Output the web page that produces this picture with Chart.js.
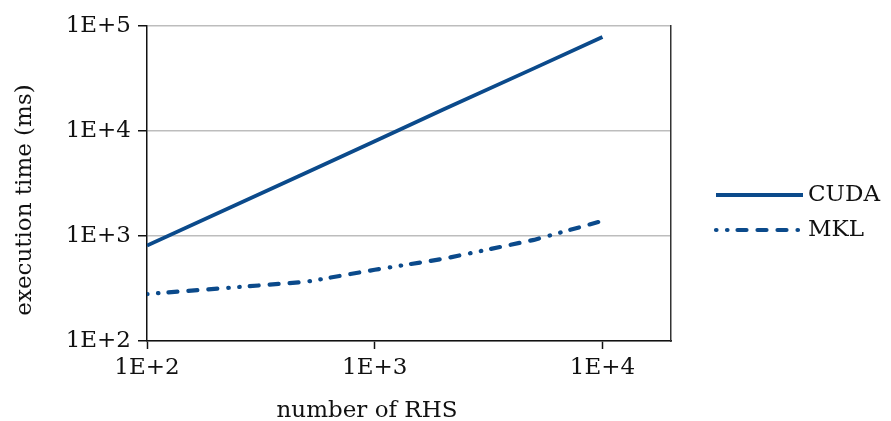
<!DOCTYPE html>
<html>
<head>
<meta charset="utf-8">
<script src="https://cdn.jsdelivr.net/npm/chart.js@4"></script>
<style>
  html, body { margin: 0; padding: 0; background: #ffffff; }
  #wrap { width: 891px; height: 421px; }
</style>
</head>
<body>
<div id="wrap"><canvas id="chart" width="891" height="421"></canvas></div>
<script>
// Execution time versus number of right-hand sides (log-log)
const rhsCounts = [100, 500, 1000, 2000, 5000, 10000];
const cudaMs = [810, 4000, 8000, 16000, 39500, 78500];
const mklMs = [280, 366, 477, 606, 918, 1393];
const seriesNames = ['CUDA', 'MKL'];

const xTickValues = [100, 1000, 10000];
const xTickLabels = ['1E+2', '1E+3', '1E+4'];
const yTickValues = [100, 1000, 10000, 100000];
const yTickLabels = ['1E+2', '1E+3', '1E+4', '1E+5'];

const xTitle = 'number of RHS';
const yTitle = 'execution time (ms)';

const FONT = "'DejaVu Serif', serif";
const INK = '#111111';
const BLUE = '#0b4a8b';
const MKL_DASH = [0.5, 10.5, 0.5, 10, 9, 11, 9, 11, 9, 11];

const toPoints = (xs, ys) => xs.map((x, i) => ({ x: x, y: ys[i] }));

function labelFrom(values, labels) {
  return function (v) {
    const i = values.indexOf(v);
    return i >= 0 ? labels[i] : '';
  };
}

// Axis titles drawn beside the plot
const axisTitles = {
  id: 'axisTitles',
  afterDraw(chart) {
    const ctx = chart.ctx;
    ctx.save();
    ctx.fillStyle = INK;
    ctx.font = '23px ' + FONT;
    ctx.textAlign = 'center';
    ctx.textBaseline = 'middle';
    ctx.fillText(xTitle, 367, 411);
    ctx.translate(25, 200);
    ctx.rotate(-Math.PI / 2);
    ctx.fillText(yTitle, 0, 0);
    ctx.restore();
  }
};

// Legend to the right of the plot, using each dataset's line style
const sideLegend = {
  id: 'sideLegend',
  afterDraw(chart) {
    const ctx = chart.ctx;
    const x0 = 716, x1 = 803, textX = 808;
    const rows = [195, 230];
    chart.data.datasets.forEach((ds, i) => {
      const y = rows[i];
      ctx.save();
      ctx.strokeStyle = ds.borderColor;
      ctx.lineWidth = ds.borderWidth;
      ctx.lineCap = ds.borderCapStyle || 'butt';
      ctx.setLineDash(ds.borderDash || []);
      ctx.beginPath();
      ctx.moveTo(x0, y);
      ctx.lineTo(x1, y);
      ctx.stroke();
      ctx.setLineDash([]);
      ctx.fillStyle = INK;
      ctx.font = '23px ' + FONT;
      ctx.textAlign = 'left';
      ctx.textBaseline = 'middle';
      ctx.fillText(ds.label, textX, y);
      ctx.restore();
    });
  }
};

new Chart(document.getElementById('chart'), {
  type: 'line',
  data: {
    datasets: [
      {
        label: seriesNames[0],
        data: toPoints(rhsCounts, cudaMs),
        borderColor: BLUE,
        borderWidth: 3.8,
        borderCapStyle: 'butt',
        pointRadius: 0,
        tension: 0,
        fill: false
      },
      {
        label: seriesNames[1],
        data: toPoints(rhsCounts, mklMs),
        borderColor: BLUE,
        borderWidth: 4.2,
        borderDash: MKL_DASH,
        borderCapStyle: 'round',
        pointRadius: 0,
        tension: 0,
        fill: false
      }
    ]
  },
  options: {
    responsive: false,
    animation: false,
    devicePixelRatio: 1,
    layout: { padding: { left: 0, right: 220, top: 26, bottom: 0 } },
    plugins: {
      legend: { display: false },
      tooltip: { enabled: false }
    },
    scales: {
      x: {
        type: 'logarithmic',
        min: 100,
        max: 20000,
        afterBuildTicks(scale) { scale.ticks = xTickValues.map(v => ({ value: v })); },
        afterFit(scale) { scale.height = 80; },
        ticks: {
          callback: labelFrom(xTickValues, xTickLabels),
          color: INK,
          font: { family: FONT, size: 23 },
          padding: 5,
          maxRotation: 0,
          autoSkip: false
        },
        grid: { drawOnChartArea: false, tickLength: 8, tickColor: '#111', tickWidth: 1.5 },
        border: { color: '#111', width: 1.5 }
      },
      y: {
        type: 'logarithmic',
        min: 100,
        max: 100000,
        afterBuildTicks(scale) { scale.ticks = yTickValues.map(v => ({ value: v })); },
        afterFit(scale) { scale.width = 147; },
        ticks: {
          callback: labelFrom(yTickValues, yTickLabels),
          color: INK,
          font: { family: FONT, size: 23 },
          padding: 7,
          autoSkip: false
        },
        grid: { color: '#bdbdbd', lineWidth: 1.5, tickLength: 9, tickColor: '#111', tickWidth: 1.5 },
        border: { color: '#111', width: 1.5 }
      },
      yRight: {
        type: 'logarithmic',
        position: 'right',
        min: 100,
        max: 100000,
        afterFit(scale) { scale.width = 0; },
        ticks: { display: false },
        grid: { drawOnChartArea: false, drawTicks: false },
        border: { color: '#333', width: 1.5 }
      }
    }
  },
  plugins: [axisTitles, sideLegend]
});
</script>
</body>
</html>
